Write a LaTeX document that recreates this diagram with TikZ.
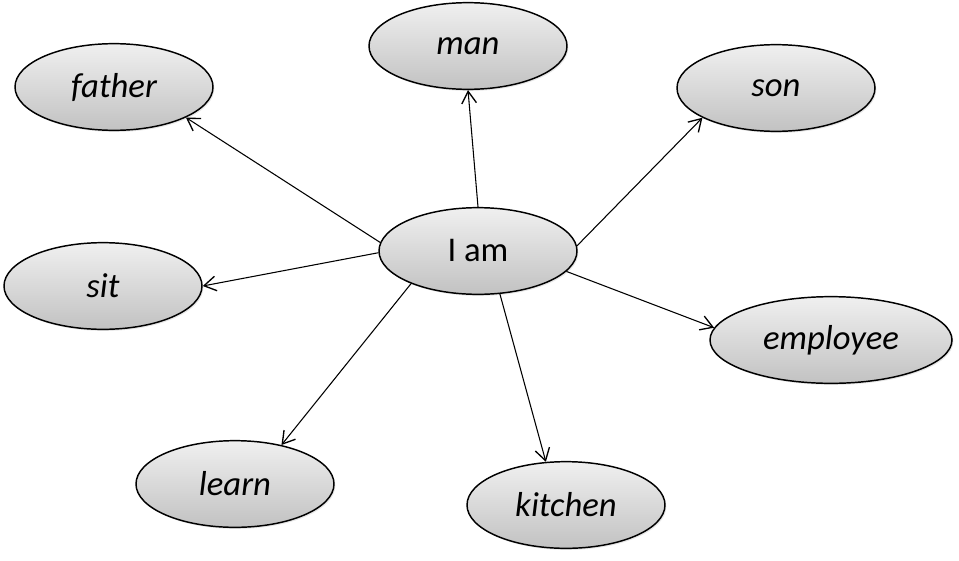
\documentclass[tikz,border=0pt]{standalone}
\usepackage{fontspec}
\setmainfont{Carlito}
\usepackage{tikz}
\usetikzlibrary{arrows.meta,shapes.geometric,shadows}

\begin{document}
\begin{tikzpicture}[
          x=0.75pt, y=-0.75pt,
          word/.style={ellipse, draw, line width=1.1pt, inner sep=0pt,
                       top color=black!6, bottom color=black!24,
                       drop shadow={opacity=0.2, shadow xshift=1pt, shadow yshift=-1.2pt},
                       minimum width=148.5pt, minimum height=65pt,
                       font=\fontsize{26}{30}\selectfont\itshape},
          link/.style={line width=0.8pt, -{Straight Barb[length=9pt, width=11pt, line width=1pt]}}
      ]
        \useasboundingbox (0,0) rectangle (959,560);
        \node[word, font=\fontsize{26}{30}\selectfont] (iam) at (478,251) {I am};
        \node[word] (father) at (114,87) {father};
        \node[word] (man) at (468,46) {man};
        \node[word] (son) at (776,88) {son};
        \node[word] (sit) at (103,286) {sit};
        \node[word, minimum width=181.5pt] (employee) at (831,340) {employee};
        \node[word] (learn) at (235,484) {learn};
        \node[word] (kitchen) at (566,505) {kitchen};
        \draw[link] (iam.175) -- (father.337);
        \draw[link] (iam.90) -- (man.270);
        \draw[link] (iam.3) -- (son.202);
        \draw[link] (iam.181) -- (sit.0);
        \draw[link] (iam.347) -- (employee.174);
        \draw[link] (iam.206) -- (learn.40);
        \draw[link] (iam.297) -- (kitchen.115);
      \end{tikzpicture}
\end{document}
